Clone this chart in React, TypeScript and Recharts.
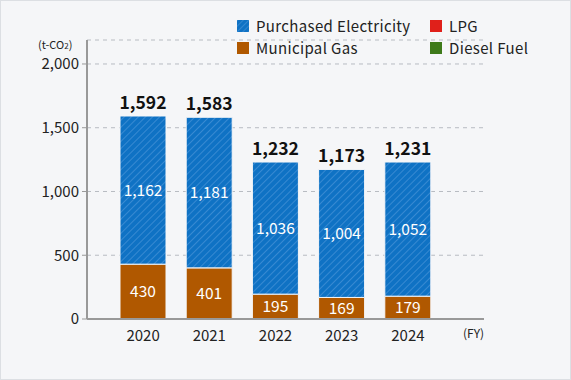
import React from 'react';
import { BarChart, Bar, XAxis, YAxis, CartesianGrid, LabelList } from 'recharts';

const years = ['2020', '2021', '2022', '2023', '2024'];
const electricity = [1162, 1181, 1036, 1004, 1052];
const municipalGas = [430, 401, 195, 169, 179];
const lpg = [0, 0, 0, 0, 0];
const diesel = [0, 0, 0, 0, 0];
const totals = [1592, 1583, 1232, 1173, 1231];
const yTicks = [0, 500, 1000, 1500, 2000];

const data = years.map((year, i) => ({
  year,
  gas: municipalGas[i],
  elec: electricity[i],
  lpg: lpg[i],
  diesel: diesel[i],
  total: totals[i],
}));

const FONT = '"Noto Sans CJK JP", "Noto Sans", sans-serif';
const fmt = (v: any) => Number(v).toLocaleString('en-US');

const legendItems = [
  { label: 'Purchased Electricity', fill: 'url(#stripesL)', left: 0, top: 0 },
  { label: 'LPG', fill: '#e0201a', left: 193, top: 0 },
  { label: 'Municipal Gas', fill: '#b05800', left: 0, top: 22 },
  { label: 'Diesel Fuel', fill: '#3e7a1a', left: 193, top: 22 },
];

const LegendBox = () => (
  <div style={{ position: 'absolute', left: 236, top: 16, width: 330, height: 42, fontSize: 15, letterSpacing: '0.35px', color: '#222' }}>
    {legendItems.map((it) => (
      <div key={it.label} style={{ position: 'absolute', left: it.left, top: it.top, height: 18, display: 'flex', alignItems: 'center', whiteSpace: 'nowrap', lineHeight: '18px' }}>
        <svg width={12} height={12} style={{ marginRight: 7 }}>
          <defs>
            <pattern id="stripesL" width={4} height={4} patternUnits="userSpaceOnUse" patternTransform="rotate(45)">
              <rect width={4} height={4} fill="#0f72c4" />
              <line x1={0} y1={0} x2={0} y2={4} stroke="#4a95d8" strokeWidth={1.2} />
            </pattern>
          </defs>
          <rect width={12} height={12} fill={it.fill} />
        </svg>
        <span>{it.label}</span>
      </div>
    ))}
  </div>
);

export default function App() {
  return (
    <div style={{ position: 'absolute', left: 0, top: 0, width: 569, height: 378, background: '#f5f6f8', border: '1px solid #dcdfe3', fontFamily: FONT }}>
      <BarChart width={571} height={380} data={data} margin={{ top: 40, right: 87, bottom: 31, left: 0 }} style={{ position: 'absolute', left: -1, top: -1 }}>
        <defs>
          <pattern id="stripes" width={5} height={5} patternUnits="userSpaceOnUse" patternTransform="rotate(45)">
            <rect width={5} height={5} fill="#0f72c4" />
            <line x1={0} y1={0} x2={0} y2={5} stroke="#4a95d8" strokeWidth={1.4} />
          </pattern>
        </defs>
        <CartesianGrid vertical={false} stroke="#b8bcc2" strokeDasharray="4 4" />
        <XAxis
          dataKey="year"
          tickLine={false}
          axisLine={{ stroke: '#999', strokeWidth: 2 }}
          tick={{ fill: '#222', fontSize: 15, fontFamily: FONT }}
          tickMargin={5}
          padding={{ left: 23, right: 43 }}
        />
        <YAxis
          width={87}
          domain={[0, 2188]}
          ticks={yTicks}
          tickFormatter={fmt}
          axisLine={{ stroke: '#999', strokeWidth: 2 }}
          tickLine={{ stroke: '#999' }}
          tickSize={5}
          tickMargin={3}
          tick={{ fill: '#222', fontSize: 15, fontFamily: FONT }}
          allowDataOverflow
        />
        <Bar dataKey="gas" stackId="a" fill="#b05800" stroke="#f5f6f8" strokeWidth={1} barSize={46} isAnimationActive={false}>
          <LabelList dataKey="gas" position="center" fill="#fff" fontSize={15.5} fontFamily={FONT} formatter={fmt} />
        </Bar>
        <Bar dataKey="elec" stackId="a" fill="url(#stripes)" stroke="#f5f6f8" strokeWidth={1} barSize={46} isAnimationActive={false}>
          <LabelList dataKey="elec" position="center" fill="#fff" fontSize={15.5} fontFamily={FONT} formatter={fmt} />
          <LabelList dataKey="total" position="top" offset={7} fill="#111" fontSize={17.5} fontWeight="bold" fontFamily={FONT} formatter={fmt} />
        </Bar>
        <Bar dataKey="lpg" stackId="a" fill="#e0201a" barSize={46} isAnimationActive={false} />
        <Bar dataKey="diesel" stackId="a" fill="#3e7a1a" barSize={46} isAnimationActive={false} />
      </BarChart>
      <LegendBox />
      <div style={{ position: 'absolute', left: 37, top: 36, fontSize: 11, lineHeight: '14px', color: '#222', whiteSpace: 'nowrap' }}>
        (t-CO<span style={{ fontSize: 8 }}>2</span>)
      </div>
      <div style={{ position: 'absolute', left: 462, top: 324, fontSize: 12, lineHeight: '16px', color: '#222' }}>(FY)</div>
    </div>
  );
}
